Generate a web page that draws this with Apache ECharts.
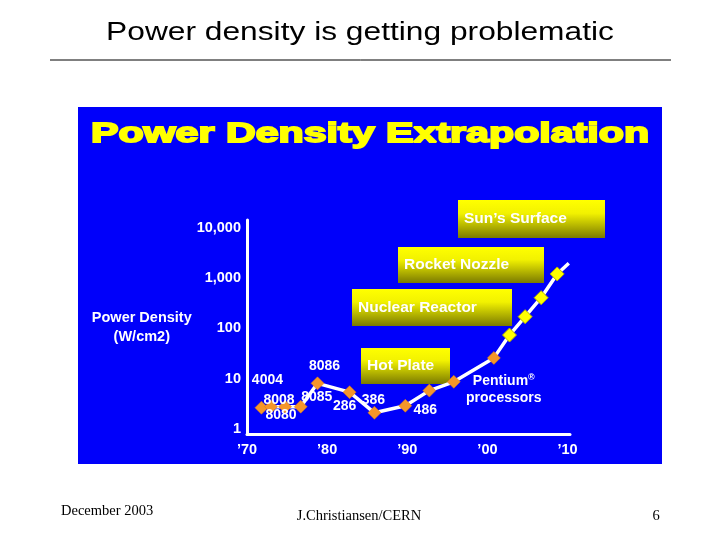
<!DOCTYPE html>
<html lang="en">
<head>
    <meta charset="UTF-8">
    <title>Power density is getting problematic</title>
    <script src="https://cdn.jsdelivr.net/npm/echarts@6/dist/echarts.min.js"></script>
    <style>
        html, body { margin: 0; padding: 0; background: #fff; }
    </style>
</head>
<body>
<div id="pic1" style="width: 720px;height:540px;"></div>
<script>
    //measured chips (year, W/cm2)
    var years = [1971.8, 1973.0, 1974.75, 1976.7, 1978.8, 1982.8, 1985.9, 1989.75, 1992.75, 1995.8, 2000.8];
    var density = [2.65, 2.78, 2.78, 2.78, 8.1, 5.4, 2.1, 2.9, 5.8, 8.7, 26];
    var chips = ['4004', '8008', '8080', '8085', '8086', '286', '386', '486', '', 'Pentium', ''];
    //extrapolation
    var projYears = [2000.8, 2002.75, 2004.7, 2006.7, 2008.7, 2010.15];
    var projDensity = [26, 74, 172, 410, 1216, 1985];
    //tick labels
    var yTickLabels = ['1', '10', '100', '1,000', '10,000'];
    var xTickLabels = ['\u201970', '\u201980', '\u201990', '\u201900', '\u201910'];
    //reference levels
    var levels = ['Hot Plate', 'Nuclear Reactor', 'Rocket Nozzle', 'Sun\u2019s Surface'];

    //label offsets for the chip names, in px
    var labelOffsets = [[6, -28], [8, -7], [-4, 8], [16, -10], [7, -17], [-5, 14], [-1, -13], [20, 4], [0, 0], [50, 8], [0, 0]];
    //boxes for the levels: x, y, w, h
    var levelBoxes = [[361, 348, 89, 36], [352, 289, 160, 37], [398, 247, 146, 36], [458, 200, 147, 38]];

    var sans = 'Liberation Sans, Arial, sans-serif';
    var serif = 'Liberation Serif, Times New Roman, serif';
    var shadow = {textShadowColor: 'rgba(0,0,70,0.8)', textShadowOffsetX: 1, textShadowOffsetY: 1, textShadowBlur: 0};

    var myCharts1 = echarts.init(document.getElementById('pic1'));

    var measured = years.map(function (y, i) {
        return {
            value: [y, density[i]],
            label: {
                show: chips[i] !== '',
                offset: labelOffsets[i],
                formatter: function () {
                    return chips[i] === 'Pentium' ? 'Pentium{sup|\u00ae}\nprocessors' : chips[i];
                }
            }
        };
    });
    var projected = projYears.map(function (y, i) {
        var item = {value: [y, projDensity[i]]};
        if (i === 0 || i === projYears.length - 1) item.symbol = 'none';
        return item;
    });

    var graphics = [
        //blue panel
        {type: 'rect', z: -1, shape: {x: 78, y: 107, width: 584, height: 357}, style: {fill: '#0000fa'}},
        //slide title
        {type: 'text', x: 360, y: 33, scaleX: 1.22, style: {text: 'Power density is getting problematic', font: '26px ' + sans, fill: '#000', align: 'center', verticalAlign: 'middle'}},
        {type: 'line', shape: {x1: 50, y1: 60, x2: 671, y2: 60}, style: {stroke: '#000', lineWidth: 1}},
        //panel title
        {type: 'text', x: 370, y: 134, scaleX: 1.47, style: {text: 'Power Density Extrapolation', font: 'bold 28px ' + sans, fill: '#ffff00', stroke: '#ffff00', lineWidth: 1.8, align: 'center', verticalAlign: 'middle'}},
        //footer
        {type: 'text', x: 61, y: 511, style: {text: 'December 2003', font: '14.5px ' + serif, fill: '#000', align: 'left', verticalAlign: 'middle'}},
        {type: 'text', x: 359, y: 516, style: {text: 'J.Christiansen/CERN', font: '14.5px ' + serif, fill: '#000', align: 'center', verticalAlign: 'middle'}},
        {type: 'text', x: 656, y: 516, style: {text: '6', font: '14.5px ' + serif, fill: '#000', align: 'center', verticalAlign: 'middle'}}
    ];
    levels.forEach(function (name, i) {
        var b = levelBoxes[i];
        graphics.push({
            type: 'rect', z: 1,
            shape: {x: b[0], y: b[1], width: b[2], height: b[3]},
            style: {
                //bright on top, olive at the bottom
                fill: new echarts.graphic.LinearGradient(0, 0, 0, 1, [
                    {offset: 0, color: '#ffff00'},
                    {offset: 0.35, color: '#f2f200'},
                    {offset: 1, color: '#7a7a00'}
                ])
            }
        });
        graphics.push({
            type: 'text', z: 1, x: b[0] + 6, y: b[1] + b[3] / 2,
            style: {text: name, font: 'bold 15.5px ' + sans, fill: '#fff', align: 'left', verticalAlign: 'middle',
                textShadowColor: 'rgba(60,60,0,0.9)', textShadowOffsetX: 1, textShadowOffsetY: 1}
        });
    });

    var option1 = {
        backgroundColor: '#fff',
        animation: false,
        graphic: graphics,
        grid: {left: 247, top: 220, width: 323, height: 214},
        xAxis: {
            type: 'value',
            min: 1970,
            max: 2010.3,
            interval: 10,
            axisLine: {lineStyle: {color: '#fff', width: 3}},
            axisTick: {show: false},
            splitLine: {show: false},
            axisLabel: {
                color: '#fff', fontFamily: sans, fontWeight: 'bold', fontSize: 14.5, margin: 8,
                formatter: function (v) {
                    var k = (v - 1970) / 10;
                    return Math.abs(k - Math.round(k)) < 1e-6 ? (xTickLabels[Math.round(k)] || '') : '';
                }
            }
        },
        yAxis: {
            type: 'log',
            logBase: 10,
            min: 0.795,
            max: 14400,
            name: 'Power Density\n(W/cm2)',
            nameLocation: 'middle',
            nameRotate: 0,
            nameGap: 97,
            nameTextStyle: {color: '#fff', fontFamily: sans, fontWeight: 'bold', fontSize: 14.5, lineHeight: 19, align: 'center', padding: [8, 0, 0, 0]},
            axisLine: {show: true, lineStyle: {color: '#fff', width: 3}},
            axisTick: {show: false},
            splitLine: {show: false},
            axisLabel: {
                color: '#fff', fontFamily: sans, fontWeight: 'bold', fontSize: 14.5, margin: 6,
                formatter: function (v) {
                    var e = Math.log10(v);
                    return Math.abs(e - Math.round(e)) < 1e-6 ? (yTickLabels[Math.round(e)] || '') : '';
                }
            }
        },
        series: [
            {
                name: 'extrapolation',
                type: 'line',
                data: projected,
                symbol: 'diamond',
                symbolSize: 14,
                lineStyle: {color: '#fff', width: 3.5},
                itemStyle: {color: '#ffff00', borderColor: '#b0b000', borderWidth: 1}
            },
            {
                name: 'chips',
                type: 'line',
                data: measured,
                symbol: 'diamond',
                symbolSize: 13,
                lineStyle: {color: '#fff', width: 3.5},
                itemStyle: {color: '#f5962a', borderColor: '#d97a10', borderWidth: 0.5},
                label: Object.assign({
                    position: 'inside',
                    color: '#fff',
                    fontFamily: sans,
                    fontWeight: 'bold',
                    fontSize: 14,
                    lineHeight: 17,
                    rich: {sup: {fontSize: 9, fontWeight: 'bold', color: '#fff', verticalAlign: 'top', padding: [0, 0, 6, 0]}}
                }, shadow)
            }
        ]
    };

    myCharts1.setOption(option1, true);
</script>
</body>
</html>
